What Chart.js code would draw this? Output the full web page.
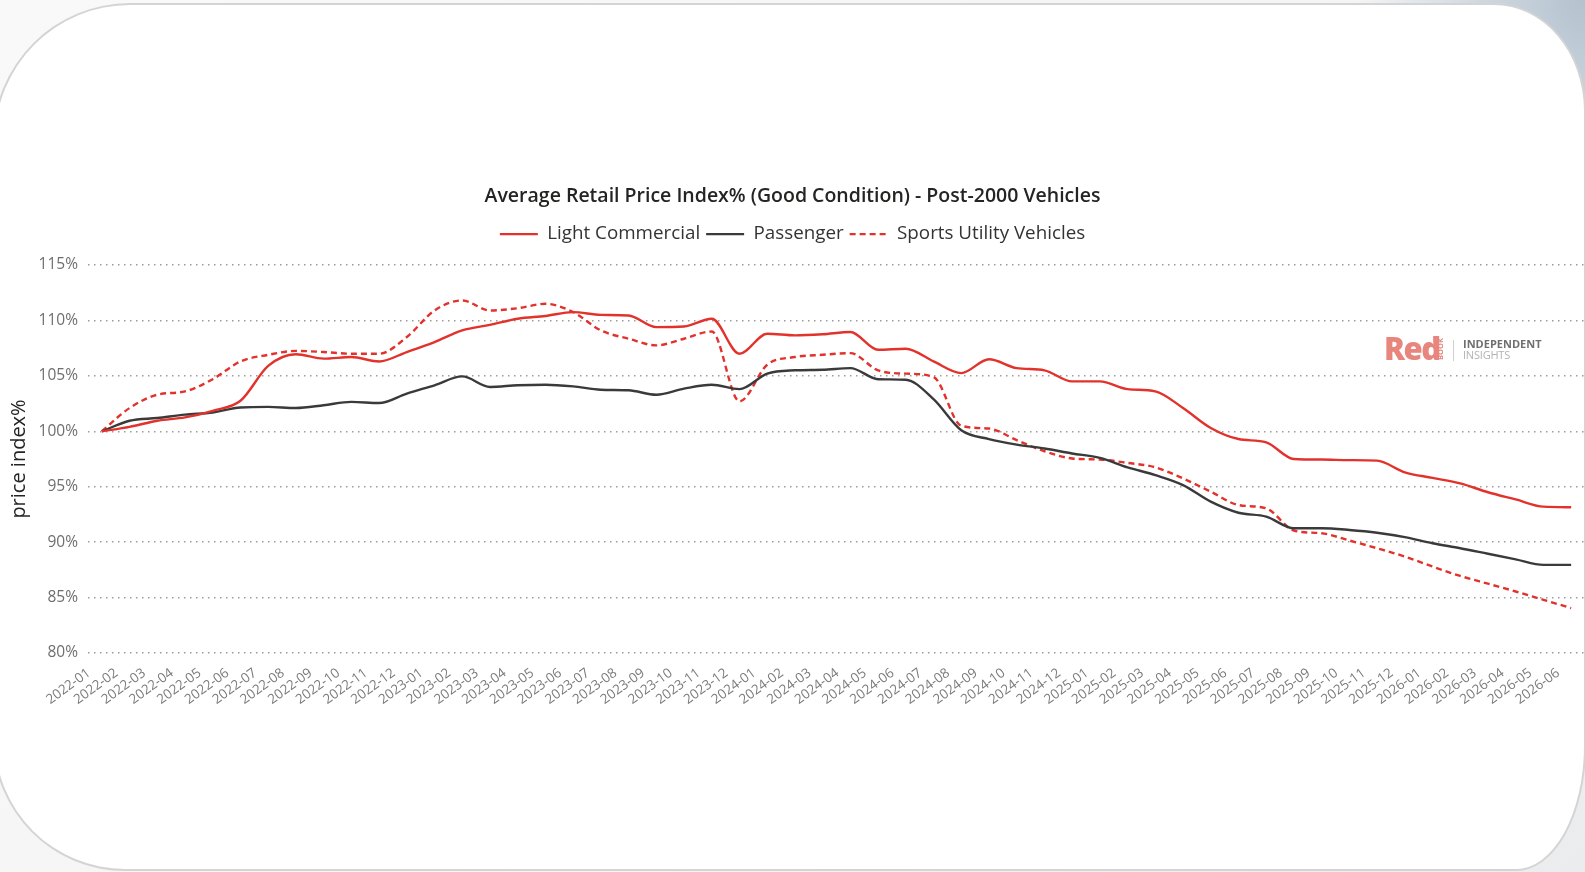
<!DOCTYPE html>
<html>
<head>
<meta charset="utf-8">
<title>Average Retail Price Index% (Good Condition) - Post-2000 Vehicles</title>
<script src="https://cdn.jsdelivr.net/npm/chart.js@4.4.1/dist/chart.umd.min.js"></script>
<style>
  html, body { margin: 0; padding: 0; }
  body {
    width: 1585px; height: 872px; overflow: hidden; position: relative;
    background:
      radial-gradient(ellipse 230px 280px at 100% 0%, #b4c2cf 0%, #cfd8e0 45%, rgba(240,242,244,0) 100%),
      linear-gradient(135deg, #f9f9f9 0%, #f4f4f4 60%, #ebecee 100%);
    font-family: 'Open Sans', sans-serif;
  }
  .card {
    position: absolute; left: -7px; top: 3px; width: 1593px; height: 868px;
    box-sizing: border-box; background: #fff; border: 2px solid #d4d4d4;
    border-radius: 137px 92px 70px 132px / 137px 108px 125px 132px;
  }
  #chart { position: absolute; left: 0; top: 0; }
  .logo span { position: absolute; white-space: nowrap; }
  .logo .red { left: 1384px; top: 333px; font-size: 31px; line-height: 31px; font-weight: 800; color: #e8857d; letter-spacing: -1.5px; }
  .logo .book { left: 1428px; top: 345px; width: 24px; font-size: 7.5px; line-height: 8px; font-weight: 700; color: #e8857d; transform: rotate(-90deg); text-align: center; }
  .logo .sep { left: 1453px; top: 340px; width: 1px; height: 21px; background: #d0d0d0; }
  .logo .ind { left: 1463px; top: 338px; font-size: 11px; line-height: 12px; font-weight: 700; color: #6f6f6f; }
  .logo .ins { left: 1463px; top: 349px; font-size: 11px; line-height: 12px; color: #b3b3b3; letter-spacing: -0.2px; }
</style>
</head>
<body>
<div class="card"></div>
<canvas id="chart" width="1585" height="872"></canvas>
<div class="logo">
  <span class="red">Red</span><span class="book">BOOK</span><span class="sep"></span>
  <span class="ind">INDEPENDENT</span><span class="ins">INSIGHTS</span>
</div>
<script>
const months = [
  '2022-01', '2022-02', '2022-03', '2022-04', '2022-05', '2022-06', '2022-07', '2022-08', '2022-09', '2022-10', '2022-11', '2022-12',
  '2023-01', '2023-02', '2023-03', '2023-04', '2023-05', '2023-06', '2023-07', '2023-08', '2023-09', '2023-10', '2023-11', '2023-12',
  '2024-01', '2024-02', '2024-03', '2024-04', '2024-05', '2024-06', '2024-07', '2024-08', '2024-09', '2024-10', '2024-11', '2024-12',
  '2025-01', '2025-02', '2025-03', '2025-04', '2025-05', '2025-06', '2025-07', '2025-08', '2025-09', '2025-10', '2025-11', '2025-12',
  '2026-01', '2026-02', '2026-03', '2026-04', '2026-05', '2026-06'
];

const lightCommercial = [
  100.0, 100.4, 100.95, 101.25, 101.85, 102.75, 105.9, 106.95, 106.55, 106.7, 106.3, 107.15,
  108.05, 109.1, 109.6, 110.15, 110.4, 110.75, 110.5, 110.45, 109.4, 109.45, 110.15, 107.0,
  108.8, 108.65, 108.75, 108.95, 107.35, 107.45, 106.3, 105.25, 106.5, 105.7, 105.5, 104.5,
  104.5, 103.8, 103.6, 102.1, 100.3, 99.3, 99.0, 97.5, 97.45, 97.4, 97.35, 96.3,
  95.8, 95.3, 94.5, 93.85, 93.2, 93.15
];

const passenger = [
  100.0, 100.95, 101.2, 101.5, 101.7, 102.15, 102.2, 102.1, 102.35, 102.65, 102.55, 103.4,
  104.15, 104.95, 104.0, 104.15, 104.2, 104.05, 103.75, 103.7, 103.3, 103.85, 104.2, 103.8,
  105.2, 105.5, 105.55, 105.7, 104.7, 104.65, 102.9, 100.1, 99.3, 98.8, 98.45, 98.0,
  97.6, 96.75, 96.05, 95.15, 93.65, 92.65, 92.3, 91.25, 91.25, 91.1, 90.85, 90.45,
  89.9, 89.45, 88.95, 88.45, 87.95, 87.95
];

const sportsUtility = [
  100.0, 102.1, 103.3, 103.6, 104.7, 106.3, 106.9, 107.25, 107.15, 107.0, 107.0, 108.5,
  110.9, 111.8, 110.9, 111.1, 111.5, 110.75, 109.1, 108.35, 107.75, 108.35, 109.0, 102.7,
  106.0, 106.7, 106.9, 107.05, 105.5, 105.2, 104.9, 100.5, 100.25, 99.2, 98.2, 97.55,
  97.45, 97.15, 96.75, 95.75, 94.55, 93.35, 93.05, 91.05, 90.8, 90.15, 89.45, 88.7,
  87.8, 86.95, 86.25, 85.55, 84.8, 84.05
];

const yTicks = [80, 85, 90, 95, 100, 105, 110, 115];

Chart.defaults.font.family = "'Open Sans', sans-serif";

// extra room between the legend and the plot
const legendGap = {
  id: 'legendGap',
  afterInit(chart, args, opts) {
    const fit = chart.legend.fit;
    chart.legend.fit = function () {
      fit.call(this);
      this.height += opts.extra || 0;
    };
  }
};

const red = '#e2322c';
const dark = '#3a3a3a';

new Chart(document.getElementById('chart'), {
  type: 'line',
  data: {
    labels: months,
    datasets: [
      { label: 'Light Commercial', data: lightCommercial, borderColor: red, backgroundColor: red, borderWidth: 2.4 },
      { label: 'Passenger', data: passenger, borderColor: dark, backgroundColor: dark, borderWidth: 2.4 },
      { label: 'Sports Utility Vehicles', data: sportsUtility, borderColor: red, backgroundColor: red, borderWidth: 2.4, borderDash: [6, 4] }
    ]
  },
  options: {
    responsive: false,
    animation: false,
    elements: {
      point: { radius: 0 },
      line: { cubicInterpolationMode: 'monotone' }
    },
    layout: { padding: { top: 184.5, left: 0, right: 0, bottom: 0 } },
    plugins: {
      title: {
        display: true,
        text: 'Average Retail Price Index% (Good Condition) - Post-2000 Vehicles',
        color: '#252423',
        font: { size: 19.5, weight: '600' },
        padding: { top: 0, bottom: 10.8 }
      },
      legend: {
        position: 'top',
        labels: {
          usePointStyle: true,
          pointStyle: 'line',
          pointStyleWidth: 38,
          color: '#333333',
          font: { size: 18.8 },
          padding: 6,
          // keep the dash of each line in its legend sample
          generateLabels: chart => Chart.defaults.plugins.legend.labels.generateLabels(chart).map(item => {
            const ds = chart.data.datasets[item.datasetIndex];
            return { ...item, lineDash: ds.borderDash || [], lineWidth: ds.borderWidth, strokeStyle: ds.borderColor };
          })
        }
      },
      legendGap: { extra: 11.5 },
      tooltip: { enabled: false }
    },
    scales: {
      x: {
        offset: true,
        grid: { display: false },
        border: { display: false },
        ticks: {
          autoSkip: false,
          minRotation: 36,
          maxRotation: 36,
          color: '#7a7a7a',
          font: { size: 13.5 },
          padding: 4,
          labelOffset: -13
        },
        afterFit: s => { s.height = 219; }
      },
      y: {
        min: 80,
        max: 115,
        afterBuildTicks: s => { s.ticks = yTicks.map(v => ({ value: v })); },
        border: { display: false, dash: [1.5, 4.5] },
        grid: { color: '#9c9c9c', lineWidth: 1.5, drawTicks: false },
        ticks: {
          color: '#6e6e6e',
          font: { size: 15.5 },
          padding: 10,
          callback: v => v + '%'
        },
        title: {
          display: true,
          text: 'price index%',
          color: '#252423',
          font: { size: 20 },
          padding: { top: 7.5, bottom: 0 }
        },
        afterFit: s => { s.width = 88; }
      }
    }
  },
  plugins: [legendGap]
});
</script>
</body>
</html>
